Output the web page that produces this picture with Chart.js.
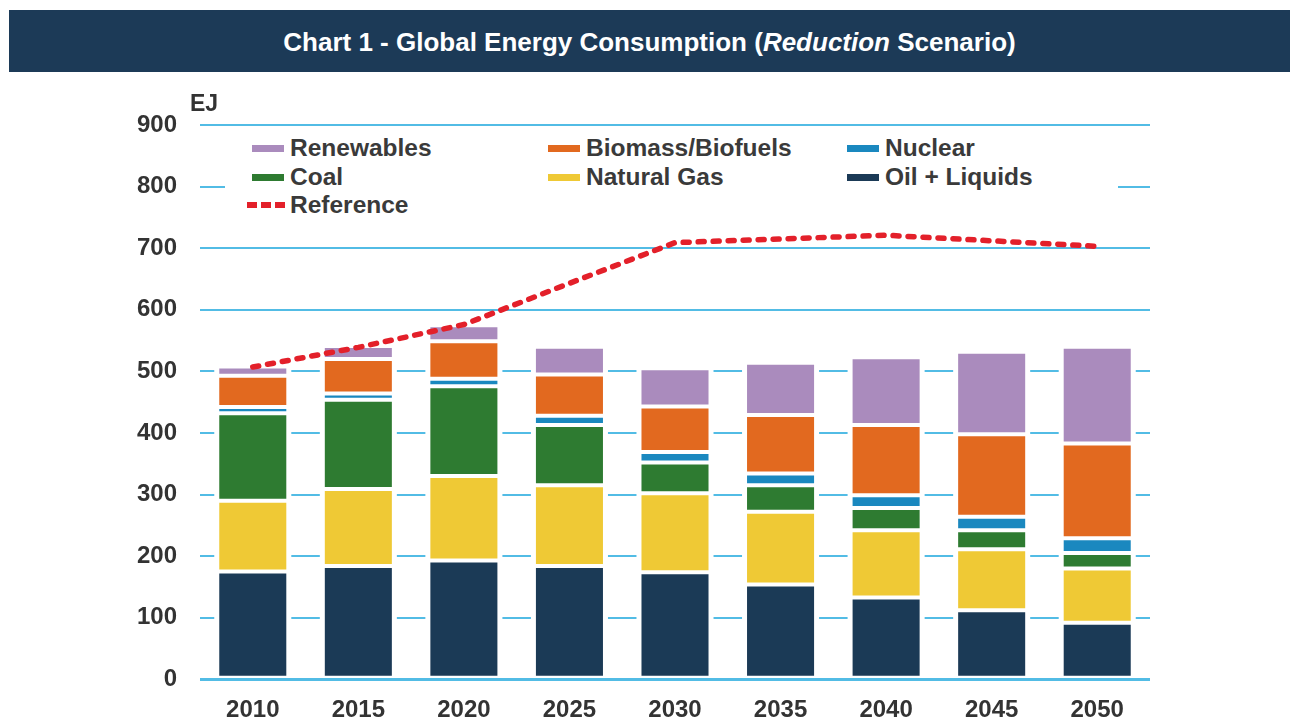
<!DOCTYPE html>
<html>
<head>
<meta charset="utf-8">
<script src="https://cdn.jsdelivr.net/npm/chart.js@4.4.1/dist/chart.umd.min.js"></script>
<style>
  html, body { margin:0; padding:0; background:#fff; }
  #wrap { position:relative; width:1293px; height:719px; overflow:hidden; font-family:"Liberation Sans", Arial, sans-serif; }
  #c { position:absolute; left:0; top:0; }
  #title { position:absolute; left:9px; top:10px; width:1281px; height:62px; background:#1c3a57; color:#fff;
           font-weight:bold; font-size:26px; line-height:64px; text-align:center; }
  #ej { position:absolute; left:190px; top:90px; font-weight:bold; font-size:23px; color:#333; }
  #legend { position:absolute; left:225px; top:131px; width:893px; height:97px; background:#fff; }
  .li { position:absolute; height:28px; display:flex; align-items:center; font-weight:bold; font-size:24.5px; color:#3a3a3a; white-space:nowrap; }
  .mk { display:inline-block; width:32px; height:7px; margin-right:6px; }
  .mkd { display:inline-block; width:40px; height:6px; margin-right:3px;
         background:repeating-linear-gradient(to right, #e3202a 0 10px, transparent 10px 14px); }
</style>
</head>
<body>
<div id="wrap">
  <canvas id="c" width="1293" height="719"></canvas>
  <div id="title">Chart 1 - Global Energy Consumption (<i>Reduction</i> Scenario)</div>
  <div id="ej">EJ</div>
  <div id="legend"></div>
</div>
<script>
// ---- data (EJ) ----
const years      = ['2010','2015','2020','2025','2030','2035','2040','2045','2050'];
const oilLiquids = [175, 184, 193, 184, 174, 154, 133, 112, 92];
const naturalGas = [115, 125, 137, 131, 128, 118, 109, 99, 88];
const coal       = [142, 145, 146, 98, 50, 43, 36, 31, 25];
const nuclear    = [10, 10, 12, 15, 17, 19, 21, 22, 24];
const biomass    = [51, 56, 61, 67, 74, 95, 114, 134, 154];
const renewables = [15, 21, 26, 45, 62, 85, 110, 134, 157];
const reference  = [507, 539, 576, 643, 709, 715, 721, 712, 703];
const yTicks     = [0, 100, 200, 300, 400, 500, 600, 700, 800, 900];

const colors = {
  oil:'#1b3a56', gas:'#efc935', coal:'#2e7b31', nuclear:'#1a88bf',
  biomass:'#e2691f', renew:'#aa8bbd', ref:'#e3202a', grid:'#52bce5'
};

function barDs(label, data, color) {
  return { type:'bar', label, data, backgroundColor:color, borderColor:'#ffffff',
           borderWidth:2, borderSkipped:false, order:1, stack:'s',
           categoryPercentage:1, barPercentage:0.673 };
}

const datasets = [
  barDs('Oil + Liquids', oilLiquids, colors.oil),
  barDs('Natural Gas', naturalGas, colors.gas),
  barDs('Coal', coal, colors.coal),
  barDs('Nuclear', nuclear, colors.nuclear),
  barDs('Biomass/Biofuels', biomass, colors.biomass),
  barDs('Renewables', renewables, colors.renew),
  { type:'line', label:'Reference', data:reference, borderColor:colors.ref, borderWidth:5.5,
    borderDash:[6,9], borderCapStyle:'round', pointRadius:0, tension:0, fill:false, order:0, stack:'ref' }
];

// white halo behind bars so gridlines stop short of the bars
const barHalo = {
  id:'barHalo',
  beforeDatasetsDraw(chart) {
    const metas = chart.getSortedVisibleDatasetMetas().filter(m => m.type === 'bar');
    if (!metas.length) return;
    const top = metas.reduce((a, m) => (m.index > a.index ? m : a), metas[0]);
    const yBase = chart.scales.y.getPixelForValue(0);
    const ctx = chart.ctx;
    ctx.save();
    ctx.fillStyle = '#ffffff';
    top.data.forEach(el => {
      const w = el.width;
      ctx.fillRect(el.x - w/2 - 3, el.y, w + 6, yBase - 1.6 - el.y);
    });
    ctx.restore();
  }
};

new Chart(document.getElementById('c'), {
  data: { labels: years, datasets },
  options: {
    responsive:false, animation:false,
    layout:{ padding:{ top:125, right:143, left:0, bottom:0 } },
    plugins:{ legend:{ display:false }, tooltip:{ enabled:false }, title:{ display:false } },
    scales:{
      x:{ stacked:true, grid:{ display:false, drawTicks:false }, border:{ display:false },
          ticks:{ font:{ family:'Liberation Sans', size:24, weight:'bold' }, color:'#333', padding:17 },
          afterFit(s){ s.height = 39.7; } },
      y:{ stacked:true, min:0, max:900,
          afterBuildTicks(s){ s.ticks = yTicks.map(v => ({ value:v })); },
          grid:{ color:colors.grid, lineWidth:(c) => c.tick && c.tick.value === 0 ? 3 : 2, drawTicks:false },
          border:{ display:false },
          ticks:{ font:{ family:'Liberation Sans', size:24, weight:'bold' }, color:'#333', padding:23 },
          afterFit(s){ s.width = 200; } }
    }
  },
  plugins:[barHalo]
});

// ---- HTML legend (overlaps plot, white background) ----
const legendItems = [
  { label:'Renewables', color:colors.renew, x:252, row:0 },
  { label:'Biomass/Biofuels', color:colors.biomass, x:548, row:0 },
  { label:'Nuclear', color:colors.nuclear, x:847, row:0 },
  { label:'Coal', color:colors.coal, x:252, row:1 },
  { label:'Natural Gas', color:colors.gas, x:548, row:1 },
  { label:'Oil + Liquids', color:colors.oil, x:847, row:1 },
  { label:'Reference', color:colors.ref, x:247, row:2, dashed:true }
];
const rowY = [148, 177, 205];
const lg = document.getElementById('legend');
legendItems.forEach(it => {
  const d = document.createElement('div');
  d.className = 'li';
  d.style.left = (it.x - 225) + 'px';
  d.style.top = (rowY[it.row] - 131 - 14) + 'px';
  const m = document.createElement('span');
  if (it.dashed) { m.className = 'mkd'; }
  else { m.className = 'mk'; m.style.background = it.color; }
  d.appendChild(m);
  d.appendChild(document.createTextNode(it.label));
  lg.appendChild(d);
});
</script>
</body>
</html>
